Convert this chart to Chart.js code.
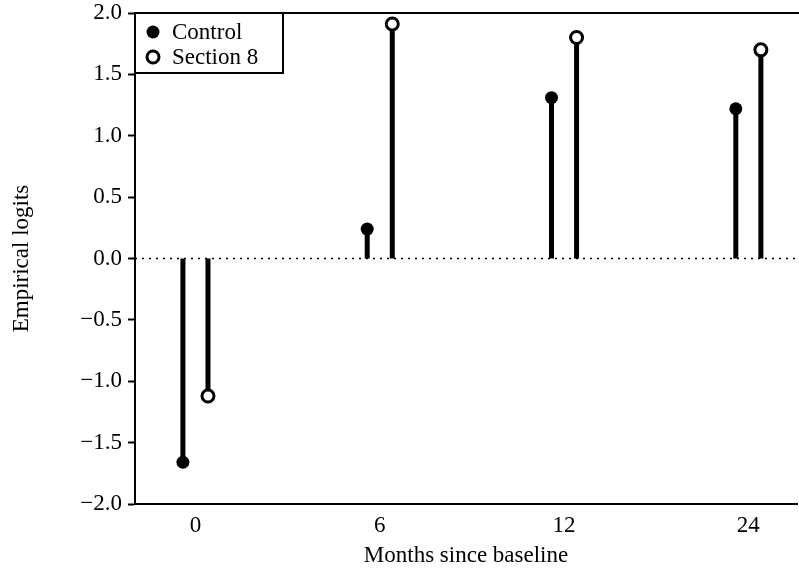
<!DOCTYPE html>
<html>
<head>
<meta charset="utf-8">
<script src="https://cdn.jsdelivr.net/npm/chart.js@4/dist/chart.umd.min.js"></script>
<style>
  body { margin: 0; background: #fff; }
  canvas { display: block; }
</style>
</head>
<body>
<canvas id="logitChart" width="799" height="575"></canvas>
<script>
// Datos del gráfico
const monthLabels = ['0', '6', '12', '24'];
const controlValues = [-1.66, 0.24, 1.31, 1.22];
const section8Values = [-1.12, 1.91, 1.80, 1.70];
const yTickValues = [-2.0, -1.5, -1.0, -0.5, 0.0, 0.5, 1.0, 1.5, 2.0];

const seriesShift = 0.068;
const serif = "'Liberation Serif', 'Times New Roman', serif";

// Tallos: de 0 al valor, separados con null
function stemPoints(values, shift) {
    const pts = [];
    values.forEach((v, i) => {
        pts.push({ x: i + shift, y: 0 });
        pts.push({ x: i + shift, y: v });
        pts.push({ x: i + shift, y: null });
    });
    return pts;
}

function markerPoints(values, shift) {
    return values.map((v, i) => ({ x: i + shift, y: v }));
}

function formatTick(v) {
    return v.toFixed(1).replace('-', '\u2212');
}

// Línea punteada en cero y borde superior
const framePlugin = {
    id: 'frame',
    beforeDatasetsDraw(chart) {
        const { ctx, chartArea } = chart;
        const y0 = chart.scales.y.getPixelForValue(0);
        ctx.save();
        ctx.strokeStyle = '#000';
        ctx.lineWidth = 1.5;
        ctx.setLineDash([2, 5]);
        ctx.beginPath();
        ctx.moveTo(chartArea.left, y0);
        ctx.lineTo(chartArea.right, y0);
        ctx.stroke();
        ctx.setLineDash([]);
        ctx.lineWidth = 2;
        ctx.beginPath();
        ctx.moveTo(chartArea.left - 1, chartArea.top);
        ctx.lineTo(chartArea.right + 2, chartArea.top);
        ctx.stroke();
        ctx.restore();
    }
};

// Leyenda con recuadro en la esquina superior izquierda
const boxLegendPlugin = {
    id: 'boxLegend',
    afterDatasetsDraw(chart) {
        const { ctx, chartArea } = chart;
        const items = chart.data.datasets.filter(ds => ds.showInBox);
        const left = chartArea.left;
        const top = chartArea.top;
        ctx.save();
        ctx.fillStyle = '#fff';
        ctx.fillRect(left, top, 148, 60);
        ctx.strokeStyle = '#000';
        ctx.lineWidth = 2;
        ctx.strokeRect(left, top, 148, 60);
        ctx.font = '23px ' + serif;
        ctx.textBaseline = 'middle';
        items.forEach((ds, k) => {
            const cy = top + 19 + k * 25;
            ctx.beginPath();
            ctx.arc(left + 18, cy, ds.pointRadius, 0, Math.PI * 2);
            ctx.fillStyle = ds.pointBackgroundColor;
            ctx.fill();
            if (ds.pointBorderWidth > 0) {
                ctx.lineWidth = ds.pointBorderWidth;
                ctx.strokeStyle = ds.pointBorderColor;
                ctx.stroke();
            }
            ctx.fillStyle = '#000';
            ctx.fillText(ds.label, left + 37, cy + 1);
        });
        ctx.restore();
    }
};

const ctx = document.getElementById('logitChart').getContext('2d');
new Chart(ctx, {
    type: 'line',
    data: {
        datasets: [
            {
                label: 'Control',
                showInBox: true,
                data: markerPoints(controlValues, -seriesShift),
                showLine: false,
                pointRadius: 6.5,
                pointBackgroundColor: '#000',
                pointBorderColor: '#000',
                pointBorderWidth: 0,
                order: 0
            },
            {
                label: 'Section 8',
                showInBox: true,
                data: markerPoints(section8Values, seriesShift),
                showLine: false,
                pointRadius: 6,
                pointBackgroundColor: '#fff',
                pointBorderColor: '#000',
                pointBorderWidth: 3,
                order: 0
            },
            {
                label: 'Control stems',
                data: stemPoints(controlValues, -seriesShift),
                borderColor: '#000',
                borderWidth: 5,
                borderCapStyle: 'butt',
                pointRadius: 0,
                spanGaps: false,
                order: 1
            },
            {
                label: 'Section 8 stems',
                data: stemPoints(section8Values, seriesShift),
                borderColor: '#000',
                borderWidth: 5,
                borderCapStyle: 'butt',
                pointRadius: 0,
                spanGaps: false,
                order: 1
            }
        ]
    },
    options: {
        responsive: false,
        animation: false,
        layout: { autoPadding: false, padding: { top: 13, right: 2, left: 0, bottom: 0 } },
        plugins: {
            legend: { display: false },
            tooltip: { enabled: false }
        },
        scales: {
            x: {
                type: 'linear',
                min: -0.328,
                max: 3.264,
                afterBuildTicks: scale => {
                    scale.ticks = monthLabels.map((_, i) => ({ value: i }));
                },
                afterFit: scale => {
                    scale.height = 71;
                    scale.paddingLeft = 0;
                    scale.paddingRight = 0;
                },
                ticks: {
                    callback: value => monthLabels[value],
                    font: { family: serif, size: 23 },
                    color: '#000',
                    padding: 8,
                    maxRotation: 0
                },
                grid: { display: true, drawOnChartArea: false, drawTicks: false },
                border: { color: '#000', width: 2 },
                title: {
                    display: true,
                    text: 'Months since baseline',
                    font: { family: serif, size: 23 },
                    color: '#000',
                    padding: { top: 0, bottom: 5 }
                }
            },
            y: {
                min: -2,
                max: 2,
                afterBuildTicks: scale => {
                    scale.ticks = yTickValues.map(v => ({ value: v }));
                },
                afterFit: scale => {
                    scale.width = 135;
                    scale.paddingTop = 0;
                    scale.paddingBottom = 0;
                },
                ticks: {
                    callback: value => formatTick(value),
                    font: { family: serif, size: 23 },
                    color: '#000',
                    padding: 6
                },
                grid: {
                    drawOnChartArea: false,
                    drawTicks: true,
                    tickLength: 7,
                    tickWidth: 2,
                    tickColor: '#000'
                },
                border: { color: '#000', width: 2 },
                title: {
                    display: true,
                    text: 'Empirical logits',
                    font: { family: serif, size: 23 },
                    color: '#000',
                    padding: { top: 8, bottom: 0 }
                }
            }
        }
    },
    plugins: [framePlugin, boxLegendPlugin]
});
</script>
</body>
</html>
